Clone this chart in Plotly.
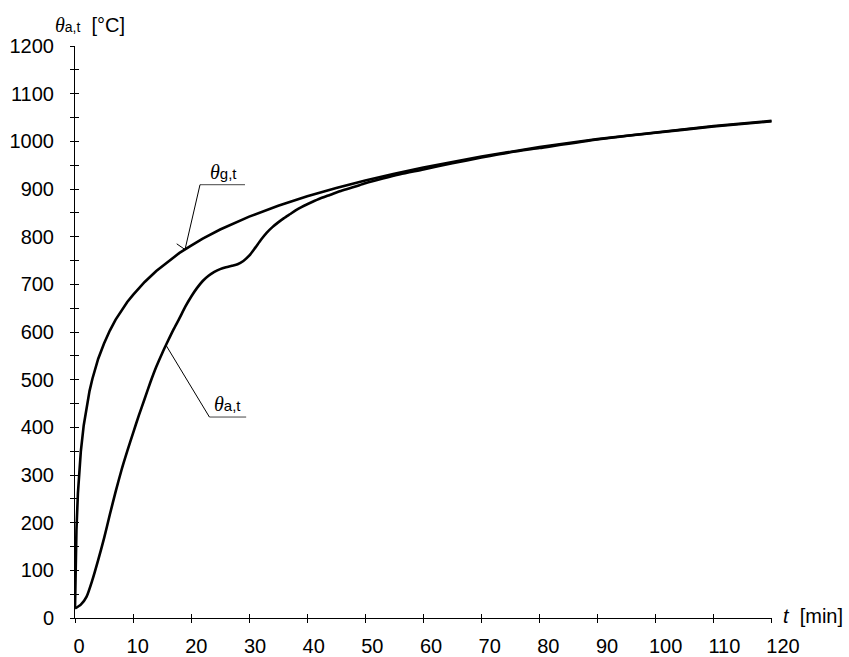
import plotly.graph_objects as go

# ---- data ----
t_gas = [0, 0.1, 0.25, 0.5, 0.75, 1, 1.5, 2, 2.5, 3, 4, 5, 6, 7, 8, 9, 10, 12, 14, 16,
         18, 20, 22, 25, 28, 30, 35, 40, 45, 50, 55, 60, 70, 80, 90, 100, 110, 120]
theta_gas = [20, 108, 185, 261, 312, 349, 404, 445, 476, 502, 544, 576, 603, 626, 645, 663,
             678, 705, 728, 748, 766, 781, 796, 815, 831, 842, 865, 885, 902, 918, 932, 945,
             968, 988, 1005, 1019, 1032, 1043]

t_steel = [0, 1, 2, 3, 4, 5, 6, 7, 8, 9, 10, 11, 12, 13, 14, 15, 16, 17, 18, 19, 20, 21,
           22, 23, 24, 25, 26, 27, 28, 29, 30, 31, 32, 33, 34, 35, 36, 37, 38, 39, 40, 42,
           44, 46, 48, 50, 53, 56, 60, 65, 70, 75, 80, 90, 100, 110, 120]
theta_steel = [20, 28, 45, 80, 122, 167, 217, 265, 310, 350, 388, 425, 460, 495, 527, 555,
               581, 606, 629, 653, 674, 692, 707, 718, 726, 732, 736, 739, 742, 749, 760,
               776, 793, 808, 820, 830, 839, 847, 855, 862, 868, 879, 888, 897, 904, 912,
               922, 931, 941, 954, 966, 977, 986, 1004, 1018, 1031, 1042]

x_ticks = list(range(0, 121, 10))
y_ticks = list(range(0, 1201, 100))

W, H = 849, 657
ML, MR, MT, MB = 75, 59, 46, 39
PW = W - ML - MR
x_main_dom = [0, (771.7 - ML) / PW]
x_lab_dom = [(79 - ML) / PW, (783 - ML) / PW]

FONT = "Liberation Sans, Arial, sans-serif"
THETA = "<span style='font-family:Liberation Serif'><i>θ</i></span>"

fig = go.Figure()
fig.add_trace(go.Scatter(x=t_gas, y=theta_gas, mode="lines",
                         line=dict(color="black", width=2.6),
                         showlegend=False, hoverinfo="skip"))
fig.add_trace(go.Scatter(x=t_steel, y=theta_steel, mode="lines",
                         line=dict(color="black", width=2.6, shape="spline", smoothing=0.6),
                         showlegend=False, hoverinfo="skip"))
# helper traces for the crossing tick marks and offset labels
fig.add_trace(go.Scatter(x=[None], y=[None], xaxis="x2", yaxis="y2", showlegend=False,
                         hoverinfo="skip"))
fig.add_trace(go.Scatter(x=[None], y=[None], xaxis="x3", yaxis="y", showlegend=False,
                         hoverinfo="skip"))

common = dict(showgrid=False, zeroline=False, automargin=False)
fig.update_layout(
    width=W, height=H,
    margin=dict(l=ML, r=MR, t=MT, b=MB, autoexpand=False),
    paper_bgcolor="white", plot_bgcolor="rgba(0,0,0,0)",
    font=dict(family=FONT, size=20, color="black"),
    xaxis=dict(domain=x_main_dom, range=[0, 120], tickvals=x_ticks, showticklabels=False,
               ticks="outside", ticklen=4, tickcolor="black", showline=True,
               linecolor="black", linewidth=1, anchor="y", **common),
    xaxis2=dict(overlaying="x", range=[0, 120], tickvals=x_ticks, showticklabels=False,
                ticks="inside", ticklen=4, tickcolor="black", showline=False,
                anchor="y2", **common),
    xaxis3=dict(domain=x_lab_dom, range=[0, 120], tickvals=x_ticks,
                ticktext=[str(v) for v in x_ticks], ticks="", showline=False,
                anchor="y", ticklabelstandoff=14, **common),
    yaxis=dict(range=[0, 1200], tickvals=y_ticks, ticks="outside", ticklen=4,
               tickcolor="black", showline=True, linecolor="black", linewidth=1,
               minor=dict(dtick=50, tick0=0, ticks="outside", ticklen=4, tickcolor="black"),
               anchor="x", ticklabelstandoff=12, **common),
    yaxis2=dict(overlaying="y", range=[0, 1200], dtick=50, tick0=0, showticklabels=False,
                ticks="inside", ticklen=4, tickcolor="black", showline=False,
                anchor="x2", side="left", **common),
)

# axis titles
fig.add_annotation(x=0, y=1200, xref="x", yref="y", xanchor="left", yanchor="middle",
                   xshift=-22, yshift=21, showarrow=False,
                   text=THETA + "<span style='font-size:14px'>a,t</span>&nbsp; [°C]")
fig.add_annotation(x=120, y=0, xref="x", yref="y", xanchor="left", yanchor="middle",
                   xshift=9, yshift=2, showarrow=False,
                   text="<i>t</i>&nbsp; [min]")

# curve labels with leader lines
lbl_line = dict(color="#444", width=1)
lead_line = dict(color="black", width=1)
# gas
fig.add_shape(type="line", x0=21.53, y0=909, x1=29.28, y1=909, line=lbl_line)
fig.add_shape(type="line", x0=21.53, y0=909, x1=18.95, y1=773, line=lead_line)
fig.add_shape(type="line", x0=17.52, y0=785, x1=18.95, y1=773, line=lead_line)
fig.add_annotation(x=25.6, y=909, xanchor="center", yanchor="bottom", yshift=0,
                   showarrow=False,
                   text=THETA + "<span style='font-size:15px'>g,t</span>")
# steel
fig.add_shape(type="line", x0=23.15, y0=421.6, x1=29.48, y1=421.6, line=lbl_line)
fig.add_shape(type="line", x0=23.15, y0=421.6, x1=15.69, y1=572, line=lead_line)
fig.add_annotation(x=26.25, y=421.6, xanchor="center", yanchor="bottom", yshift=0,
                   showarrow=False,
                   text=THETA + "<span style='font-size:15px'>a,t</span>")

fig.write_html("out.html", config={"displayModeBar": False},
               post_script="document.body.style.margin='0';document.body.style.overflow='hidden';")
